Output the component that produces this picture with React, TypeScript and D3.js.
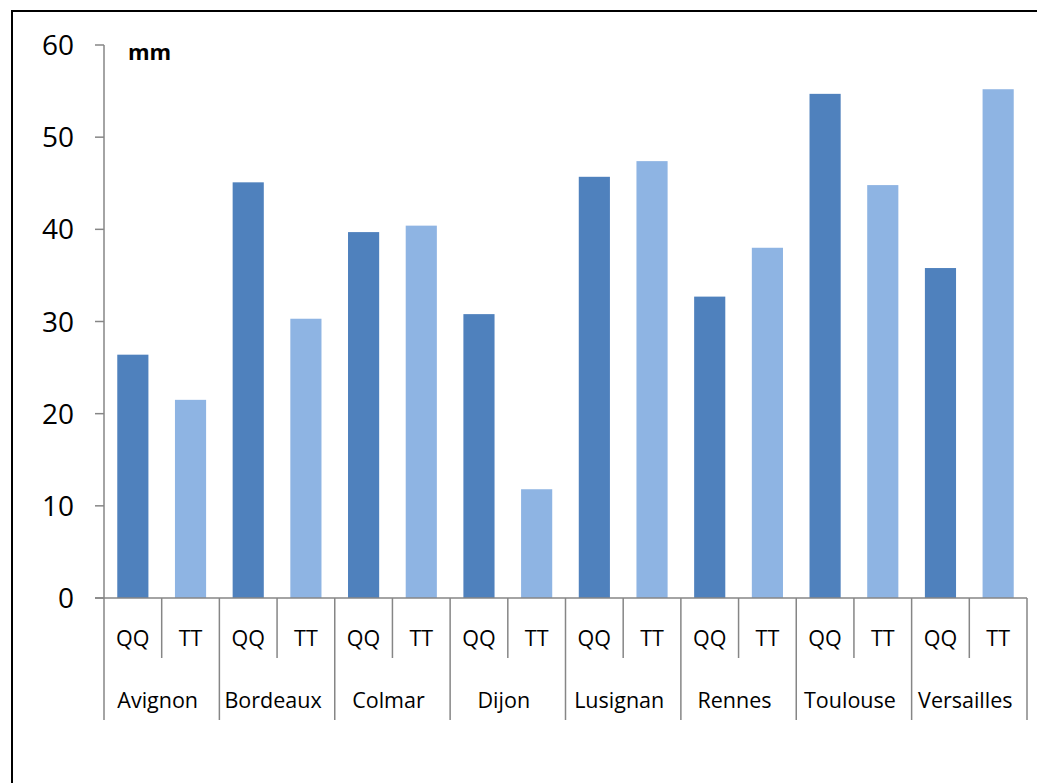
import React from "react";
import * as d3 from "d3";

const sites = ["Avignon", "Bordeaux", "Colmar", "Dijon", "Lusignan", "Rennes", "Toulouse", "Versailles"];
const treatments = ["QQ", "TT"];
const qqValues = [26.4, 45.1, 39.7, 30.8, 45.7, 32.7, 54.7, 35.8];
const ttValues = [21.5, 30.3, 40.4, 11.8, 47.4, 38.0, 44.8, 55.2];
const yTicks = [0, 10, 20, 30, 40, 50, 60];
const unitLabel = "mm";

const W = 1037, H = 783;
const left = 104, right = 1027, top = 45, bottom = 598;
const colors: Record<string, string> = { QQ: "#4F81BD", TT: "#8EB4E3" };
const axisColor = "#868686";
const font = "'Open Sans', 'Noto Sans', sans-serif";

export default function App() {
  const slots = sites.flatMap((s) => treatments.map((t) => `${s}|${t}`));
  const x = d3.scaleBand<string>().domain(slots).range([left, right]).paddingInner(0.46).paddingOuter(0.23);
  const xs = d3.scaleBand<string>().domain(slots).range([left, right]);
  const xg = d3.scaleBand<string>().domain(sites).range([left, right]);
  const y = d3.scaleLinear().domain([0, 60]).range([bottom, top]);

  const bars = sites.flatMap((s, i) => [
    { key: `${s}|QQ`, t: "QQ", v: qqValues[i] },
    { key: `${s}|TT`, t: "TT", v: ttValues[i] },
  ]);

  return (
    <svg width={W} height={H} style={{ position: "absolute", left: 0, top: 0, background: "#fff" }}>
      <rect x={12} y={11} width={W + 10} height={H + 10} fill="#fff" stroke="#000" strokeWidth={2} />
      {bars.map((b) => (
        <rect key={b.key} x={x(b.key)} y={y(b.v)} width={x.bandwidth()} height={bottom - y(b.v)} fill={colors[b.t]} />
      ))}
      {/* y axis */}
      <line x1={left} x2={left} y1={top} y2={720} stroke={axisColor} strokeWidth={1.5} />
      {yTicks.map((t) => (
        <g key={t}>
          <line x1={left - 9} x2={left} y1={y(t)} y2={y(t)} stroke={axisColor} strokeWidth={1.5} />
          <text x={74} y={y(t)} dy="0.36em" textAnchor="end" fontFamily={font} fontSize={28} fill="#000">
            {t}
          </text>
        </g>
      ))}
      {/* x axis */}
      <line x1={left - 9} x2={right} y1={bottom} y2={bottom} stroke={axisColor} strokeWidth={1.5} />
      {slots.map((s, i) => {
        const x0 = xs(s)!;
        const isGroupEnd = i % 2 === 1;
        return (
          <g key={s}>
            <line x1={x0 + xs.bandwidth()} x2={x0 + xs.bandwidth()} y1={bottom} y2={isGroupEnd ? 720 : 658} stroke={axisColor} strokeWidth={1.5} />
            <text x={x0 + xs.bandwidth() / 2} y={646} textAnchor="middle" fontFamily={font} fontSize={21.5} fill="#000">
              {s.split("|")[1]}
            </text>
          </g>
        );
      })}
      {sites.map((s) => (
        <text key={s} x={xg(s)! + xg.bandwidth() / 2 - 4} y={708} textAnchor="middle" fontFamily={font} fontSize={21.5} fill="#000">
          {s}
        </text>
      ))}
      <text x={128} y={60} fontFamily={font} fontSize={22} fontWeight="bold" fill="#000">
        {unitLabel}
      </text>
    </svg>
  );
}
